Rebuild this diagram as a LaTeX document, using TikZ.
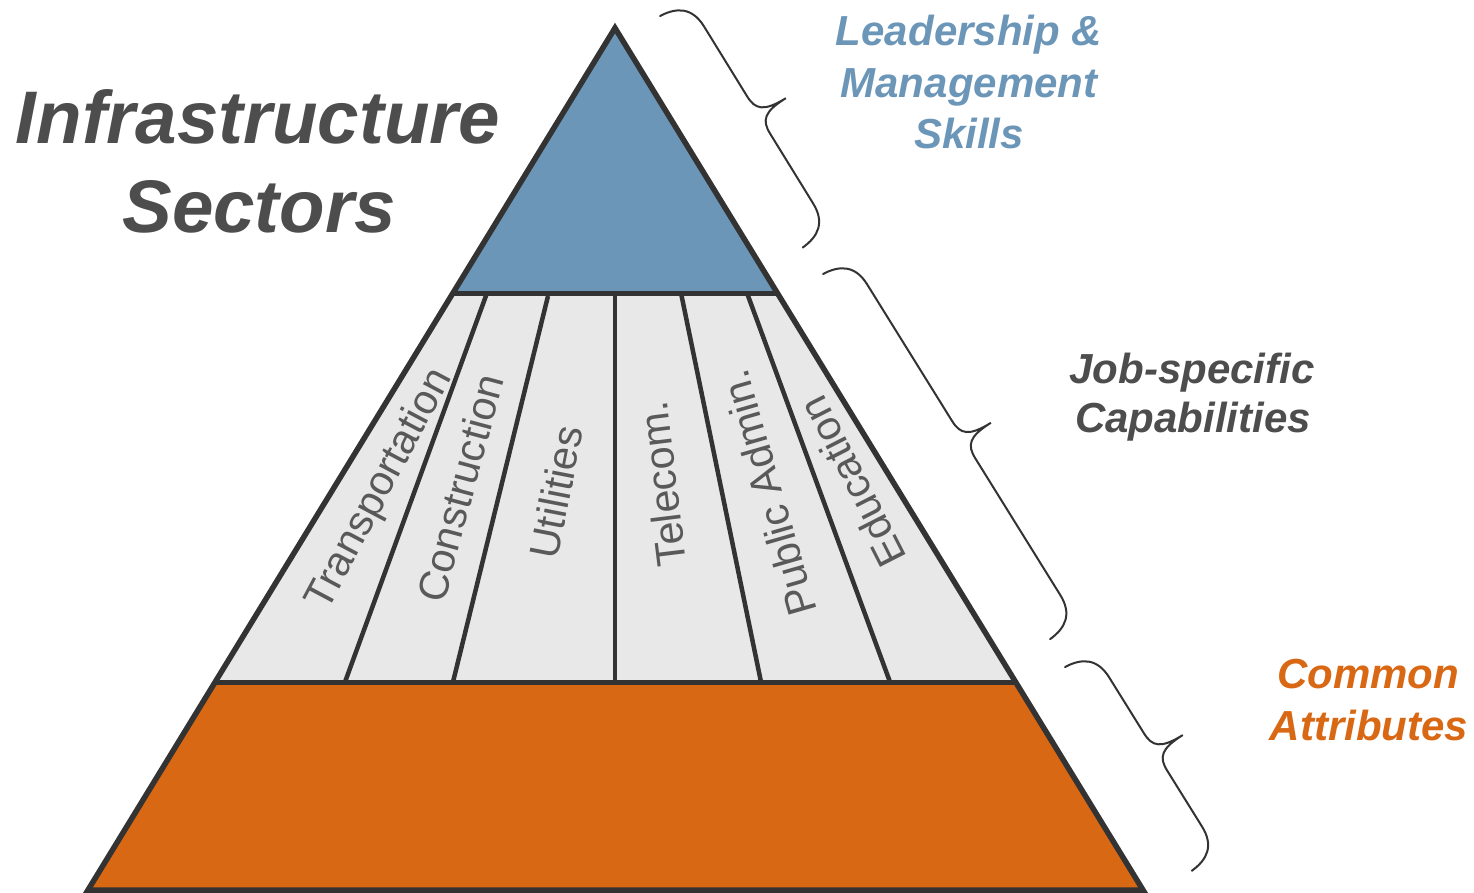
\documentclass[tikz,border=0pt]{standalone}
\usepackage{fontspec}
\setmainfont{Liberation Sans}
\usetikzlibrary{calc}
\definecolor{pyrblue}{HTML}{6C96B8}
\definecolor{pyrorange}{HTML}{D86814}
\definecolor{pyrgrey}{HTML}{E8E8E8}
\definecolor{outlinegrey}{HTML}{333333}
\definecolor{labelgrey}{HTML}{595959}
\definecolor{titlegrey}{HTML}{4D4D4D}
\tikzset{
  pyrline/.style={draw=outlinegrey, line width=5pt},
  divline/.style={draw=outlinegrey, line width=4.5pt},
  bracestyle/.style={draw=outlinegrey, line width=2pt, line cap=round},
  sector/.style={text=labelgrey, font=\fontsize{41.5}{49}\selectfont, inner sep=0pt},
  headbig/.style={font=\fontsize{74.5}{88}\selectfont\bfseries\itshape, text=titlegrey, anchor=base, inner sep=0pt},
  sidelabel/.style={font=\fontsize{42}{51}\selectfont\bfseries\itshape, anchor=base, inner sep=0pt},
  pics/curly/.style={code={
    \draw[bracestyle] (0,0) .. controls (1.3,19) and (9.6,32) .. (32,32)
      -- ({#1/2-22},32) .. controls ({#1/2-6.4},32) and ({#1/2},38) .. ({#1/2},64)
      .. controls ({#1/2},38) and ({#1/2+6.4},32) .. ({#1/2+22},32)
      -- ({#1-32},32) .. controls ({#1-9.6},32) and ({#1-1.3},19) .. (#1,0);
  }}
}
\begin{document}
\begin{tikzpicture}[x=1pt,y=1pt]
\useasboundingbox (0,0) rectangle (1474,-892);
% pyramid corners
\coordinate (A) at (615,-28);
\coordinate (BL) at (88,-890);
\coordinate (BR) at (1143,-890);
\coordinate (L1) at ($(A)!0.30742!(BL)$);
\coordinate (R1) at ($(A)!0.30742!(BR)$);
\coordinate (L2) at ($(A)!0.75870!(BL)$);
\coordinate (R2) at ($(A)!0.75870!(BR)$);
% fills
\fill[pyrblue] (A) -- (L1) -- (R1) -- cycle;
\fill[pyrgrey] (L1) -- (R1) -- (R2) -- (L2) -- cycle;
\fill[pyrorange] (L2) -- (R2) -- (BR) -- (BL) -- cycle;
% dividers
\coordinate (D1t) at (487,-293); \coordinate (D1b) at (345,-682);
\coordinate (D2t) at (548,-296); \coordinate (D2b) at (453,-682);
\coordinate (D3t) at (615,-293); \coordinate (D3b) at (615,-682);
\coordinate (D4t) at (681,-293); \coordinate (D4b) at (761,-682);
\coordinate (D5t) at (747,-293); \coordinate (D5b) at (890,-682);
\foreach \i in {1,...,5}{\draw[divline] (D\i t) -- (D\i b);}
\draw[pyrline] (L1) -- (R1);
\draw[pyrline] (L2) -- (R2);
\draw[pyrline, line width=5.5pt, line join=miter] (A) -- (BL) -- (BR) -- cycle;
% sector labels
\node[sector, rotate=62] (tra) at (380,-490) {Transportation};
\node[sector, rotate=75] (con) at (460,-488) {Construction};
\node[sector, rotate=79] (uti) at (556,-492) {Utilities};
\node[sector, rotate=97] (tel) at (662,-484) {Telecom.};
\node[sector, rotate=106] (pub) at (768,-493) {Public Admin.};
\node[sector, rotate=117] (edu) at (852,-482) {Education};
% title
\node[headbig] (title1) at (258,-143) {Infrastructure};
\node[headbig] (title2) at (259,-232) {Sectors};
% side labels
\node[sidelabel, text=pyrblue] (lead1) at (969,-45) {Leadership \&};
\node[sidelabel, text=pyrblue] (lead2) at (969,-97) {Management};
\node[sidelabel, text=pyrblue] (lead3) at (969,-148) {Skills};
\node[sidelabel, text=titlegrey] (job1) at (1192,-383) {Job-specific};
\node[sidelabel, text=titlegrey] (job2) at (1193,-432) {Capabilities};
\node[sidelabel, text=pyrorange] (com1) at (1368,-688) {Common};
\node[sidelabel, text=pyrorange] (com2) at (1369,-740) {Attributes};
% braces
\pic[rotate=-58.35] (brA) at (660,-16) {curly=272};
\pic[rotate=-58.13] (brB) at (823,-274) {curly=430};
\pic[rotate=-58.10] (brC) at (1065,-667) {curly=240};
\end{tikzpicture}
\end{document}
